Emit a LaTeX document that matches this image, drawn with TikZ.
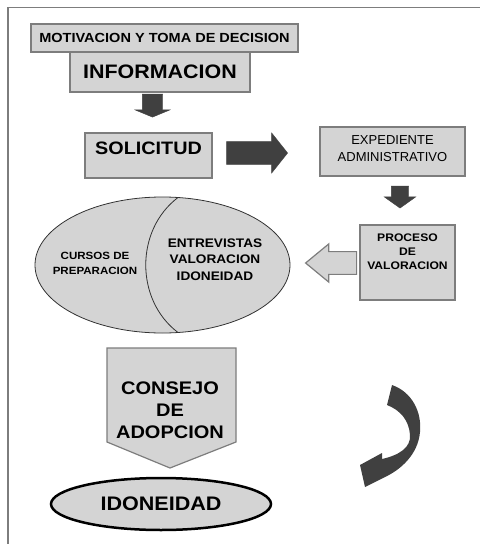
\documentclass[tikz,border=0pt]{standalone}
\usepackage{fontspec}
\setmainfont{Liberation Sans}
\newfontfamily\widefont[FakeStretch=1.1]{Liberation Sans}
\usetikzlibrary{shapes.geometric,shapes.arrows}

\definecolor{boxgray}{RGB}{212,212,212}
\definecolor{linegray}{RGB}{125,125,125}
\definecolor{arrowgray}{RGB}{64,64,64}

\tikzset{
  box/.style={draw=linegray,fill=boxgray,line width=1.2pt,inner sep=0pt,align=center,font=\widefont\bfseries},
  darkarrow/.style={single arrow,fill=arrowgray,draw=arrowgray,inner xsep=0pt},
  lightarrow/.style={single arrow,fill=boxgray,draw=linegray,line width=1.2pt,inner xsep=0pt},
  oval/.style={ellipse,draw=black,fill=boxgray,inner sep=0pt}
}

\begin{document}
\begin{tikzpicture}[x=1pt,y=-1pt]
\useasboundingbox (0,0) rectangle (480,544);
\draw[linegray,line width=1.5pt] (8,544) -- (8,7.5) -- (480,7.5);

\node (motiv) at (164.5,38) [box,minimum width=267,minimum height=28,font=\widefont\bfseries\fontsize{13.2}{15}\selectfont] {MOTIVACION Y TOMA DE DECISION};
\node (info) at (160,72) [box,minimum width=180,minimum height=40,font=\widefont\bfseries\fontsize{19.5}{21}\selectfont] {INFORMACION};
\node (down1) at (152.5,103.5) [darkarrow,rotate=-90,inner ysep=10,minimum width=29,minimum height=23,single arrow tip angle=135] {};
\node (sol) at (148.5,155.5) [box,minimum width=127,minimum height=45,text depth=15pt,font=\widefont\bfseries\fontsize{18}{20}\selectfont] {SOLICITUD};
\node (right1) at (252.5,153) [darkarrow,inner ysep=9.5,minimum width=40,minimum height=61,single arrow tip angle=103] {};
\node (exped) at (392.5,151.5) [box,minimum width=145,minimum height=49,text depth=6pt,font=\fontsize{13}{17}\selectfont] {EXPEDIENTE\\ADMINISTRATIVO};
\node (down2) at (400,194) [darkarrow,rotate=-90,inner ysep=8.5,minimum width=28,minimum height=22,single arrow tip angle=109] {};

% flecha hacia la elipse
\node (left1) at (338,263) [lightarrow,rotate=180,inner ysep=10,minimum width=38,minimum height=51,single arrow tip angle=79] {};
\node (proc) at (407.5,262.5) [box,minimum width=95,minimum height=75,text depth=22pt,font=\widefont\bfseries\fontsize{11}{14}\selectfont] {PROCESO\\DE\\VALORACION};

\node (valo) at (162.5,265) [oval,draw=black!80,line width=0.8pt,minimum width=255,minimum height=136] {};
\draw[black!80,line width=0.8pt] (178,197.5) .. controls (135,230) and (135,300) .. (178,332.5);
\node (cursos) at (95,263) [align=center,font=\widefont\bfseries\fontsize{10.5}{15}\selectfont] {CURSOS DE\\PREPARACION};
\node (entrev) at (215,259.5) [align=center,font=\widefont\bfseries\fontsize{12.4}{16.5}\selectfont] {ENTREVISTAS\\VALORACION\\IDONEIDAD};

\draw[draw=linegray,fill=boxgray,line width=1.2pt] (107,348) -- (236,348) -- (236,442) -- (170,468) -- (107,442) -- cycle;
\node (consejo) at (170,410) [align=center,font=\widefont\bfseries\fontsize{18.2}{22}\selectfont] {CONSEJO\\DE\\ADOPCION};

\node (idon) at (161,504) [oval,line width=2.5pt,minimum width=220,minimum height=52,font=\widefont\bfseries\fontsize{19.6}{21}\selectfont] {IDONEIDAD};

% flecha curva
\fill[arrowgray] (387,405) -- (392,385) .. controls (412,392) and (422,412) .. (420,432)
  .. controls (418,455) and (400,470) .. (385,477) -- (365,487) -- (360,465) -- (382,453) -- (382,459)
  .. controls (400,455) and (411,447) .. (410,435) .. controls (409,420) and (400,410) .. (387,405) -- cycle;
\end{tikzpicture}
\end{document}
